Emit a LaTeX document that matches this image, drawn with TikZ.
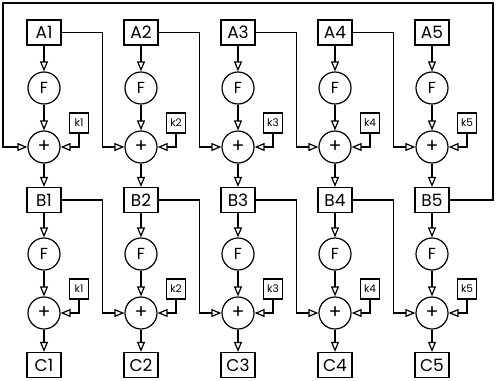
\documentclass[tikz,border=0pt]{standalone}
\usepackage{fontspec}
\setmainfont{Poppins}
\usetikzlibrary{arrows.meta}

\begin{document}
\begin{tikzpicture}[x=1pt,y=-1pt,
  font=\fontsize{17}{19}\selectfont,
  block/.style={draw,line width=1.2pt,minimum width=34pt,minimum height=25pt,inner sep=0pt},
  func/.style={draw,circle,line width=1.2pt,minimum size=32pt,inner sep=0pt,font=\fontsize{16}{18}\selectfont},
  adder/.style={draw,circle,line width=1.2pt,minimum size=32pt,inner sep=0pt,font=\fontsize{19}{21}\selectfont},
  keybox/.style={draw,line width=1.2pt,minimum width=19pt,minimum height=20pt,inner sep=0pt,font=\fontsize{10.5}{12}\selectfont},
  wire/.style={-{Triangle[open,length=10pt,width=8pt]},line width=1.2pt},
  line/.style={line width=1.2pt}]

\path[use as bounding box] (0,0) rectangle (500,380);
% first round
\node[block] (a1) at (44,32.5) {A1};
\node[block] (a2) at (141,32.5) {A2};
\node[block] (a3) at (238,32.5) {A3};
\node[block] (a4) at (335,32.5) {A4};
\node[block] (a5) at (432,32.5) {A5};
\node[func] (fa1) at (44,88) {F};
\node[func] (fa2) at (141,88) {F};
\node[func] (fa3) at (238,88) {F};
\node[func] (fa4) at (335,88) {F};
\node[func] (fa5) at (432,88) {F};
\node[adder] (pa1) at (44,147) {+};
\node[adder] (pa2) at (141,147) {+};
\node[adder] (pa3) at (238,147) {+};
\node[adder] (pa4) at (335,147) {+};
\node[adder] (pa5) at (432,147) {+};
\node[keybox] (ka1) at (79,123) {k1};
\node[keybox] (ka2) at (176,123) {k2};
\node[keybox] (ka3) at (273,123) {k3};
\node[keybox] (ka4) at (370,123) {k4};
\node[keybox] (ka5) at (467,123) {k5};
% second round
\node[block] (b1) at (44,200) {B1};
\node[block] (b2) at (141,200) {B2};
\node[block] (b3) at (238,200) {B3};
\node[block] (b4) at (335,200) {B4};
\node[block] (b5) at (432,200) {B5};
\node[func] (fb1) at (44,254) {F};
\node[func] (fb2) at (141,254) {F};
\node[func] (fb3) at (238,254) {F};
\node[func] (fb4) at (335,254) {F};
\node[func] (fb5) at (432,254) {F};
\node[adder] (pb1) at (44,313) {+};
\node[adder] (pb2) at (141,313) {+};
\node[adder] (pb3) at (238,313) {+};
\node[adder] (pb4) at (335,313) {+};
\node[adder] (pb5) at (432,313) {+};
\node[keybox] (kb1) at (79,289) {k1};
\node[keybox] (kb2) at (176,289) {k2};
\node[keybox] (kb3) at (273,289) {k3};
\node[keybox] (kb4) at (370,289) {k4};
\node[keybox] (kb5) at (467,289) {k5};
\node[block] (c1) at (44,365) {C1};
\node[block] (c2) at (141,365) {C2};
\node[block] (c3) at (238,365) {C3};
\node[block] (c4) at (335,365) {C4};
\node[block] (c5) at (432,365) {C5};
\coordinate (loopne) at (493,3);
\coordinate (loopnw) at (3,3);

% vertical chains
\draw[wire] (a1)--(fa1); \draw[wire] (fa1)--(pa1); \draw[wire] (pa1)--(b1);
\draw[wire] (a2)--(fa2); \draw[wire] (fa2)--(pa2); \draw[wire] (pa2)--(b2);
\draw[wire] (a3)--(fa3); \draw[wire] (fa3)--(pa3); \draw[wire] (pa3)--(b3);
\draw[wire] (a4)--(fa4); \draw[wire] (fa4)--(pa4); \draw[wire] (pa4)--(b4);
\draw[wire] (a5)--(fa5); \draw[wire] (fa5)--(pa5); \draw[wire] (pa5)--(b5);
\draw[wire] (b1)--(fb1); \draw[wire] (fb1)--(pb1); \draw[wire] (pb1)--(c1);
\draw[wire] (b2)--(fb2); \draw[wire] (fb2)--(pb2); \draw[wire] (pb2)--(c2);
\draw[wire] (b3)--(fb3); \draw[wire] (fb3)--(pb3); \draw[wire] (pb3)--(c3);
\draw[wire] (b4)--(fb4); \draw[wire] (fb4)--(pb4); \draw[wire] (pb4)--(c4);
\draw[wire] (b5)--(fb5); \draw[wire] (fb5)--(pb5); \draw[wire] (pb5)--(c5);
% round keys
\draw[wire] (ka1.south) |- (pa1.east);
\draw[wire] (ka2.south) |- (pa2.east);
\draw[wire] (ka3.south) |- (pa3.east);
\draw[wire] (ka4.south) |- (pa4.east);
\draw[wire] (ka5.south) |- (pa5.east);
\draw[wire] (kb1.south) |- (pb1.east);
\draw[wire] (kb2.south) |- (pb2.east);
\draw[wire] (kb3.south) |- (pb3.east);
\draw[wire] (kb4.south) |- (pb4.east);
\draw[wire] (kb5.south) |- (pb5.east);
% cross links
\draw[wire] (a1.east) -- ++(41,0) |- (pa2.west);
\draw[wire] (a2.east) -- ++(41,0) |- (pa3.west);
\draw[wire] (a3.east) -- ++(41,0) |- (pa4.west);
\draw[wire] (a4.east) -- ++(41,0) |- (pa5.west);
\draw[wire] (b1.east) -- ++(41,0) |- (pb2.west);
\draw[wire] (b2.east) -- ++(41,0) |- (pb3.west);
\draw[wire] (b3.east) -- ++(41,0) |- (pb4.west);
\draw[wire] (b4.east) -- ++(41,0) |- (pb5.west);
\draw[wire] (b5.east) -| (loopne) -- (loopnw) |- (pa1.west);

\end{tikzpicture}
\end{document}
